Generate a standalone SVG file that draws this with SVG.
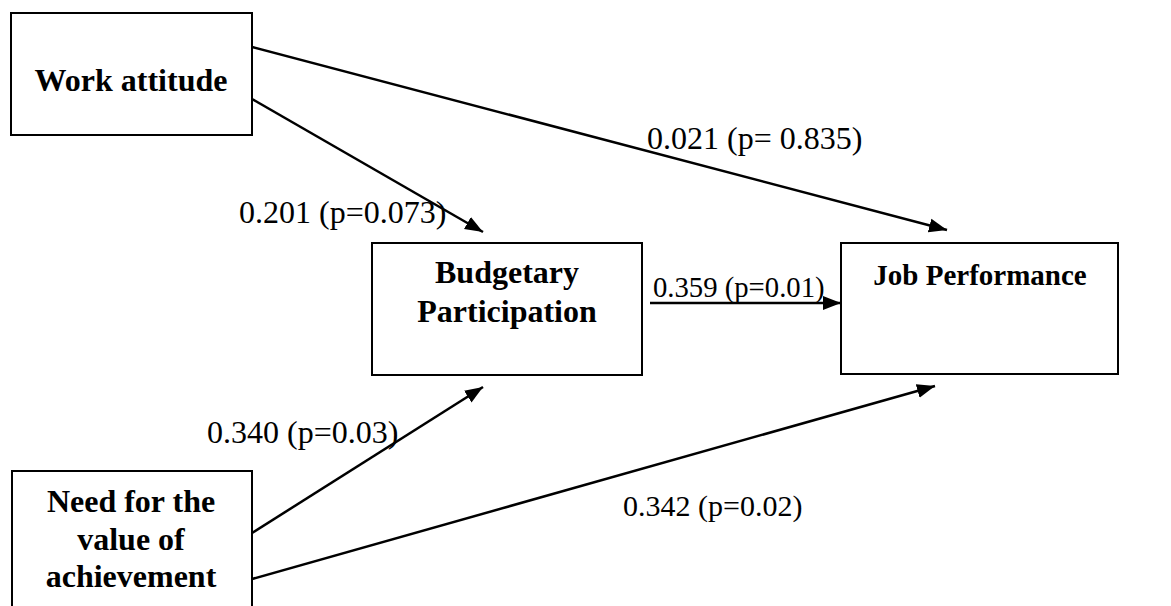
<svg xmlns="http://www.w3.org/2000/svg" width="1171" height="606" viewBox="0 0 1171 606">
<defs>
<marker id="arr" markerUnits="userSpaceOnUse" markerWidth="20" markerHeight="16" refX="18" refY="7" orient="auto" viewBox="0 0 20 14">
<path d="M0,0 L18,7 L0,14 Z" fill="#000"/>
</marker>
<style>
.box{fill:#fff;stroke:#000;stroke-width:2}
.t{font-family:"Liberation Serif","Times New Roman",serif;font-weight:bold;font-size:32px;fill:#000;text-anchor:middle}
.l{font-family:"Liberation Serif","Times New Roman",serif;font-size:32px;fill:#000}
.c{stroke:#000;stroke-width:2.5;fill:none;marker-end:url(#arr)}
</style>
</defs>
<rect width="1171" height="606" fill="#fff"/>
<g id="work-attitude">
<rect class="box" x="11" y="13" width="241" height="122"/>
<text class="t" x="131" y="91">Work attitude</text>
</g>
<g id="budgetary-participation">
<rect class="box" x="372" y="243" width="270" height="132"/>
<text class="t" x="507" y="283">Budgetary</text>
<text class="t" x="507" y="322">Participation</text>
</g>
<g id="job-performance">
<rect class="box" x="841" y="243" width="277" height="131"/>
<text class="t" x="980" y="285" style="font-size:29px">Job Performance</text>
</g>
<g id="need-achievement">
<rect class="box" x="12" y="471" width="240" height="145"/>
<text class="t" x="131" y="512">Need for the</text>
<text class="t" x="131" y="550">value of</text>
<text class="t" x="131" y="587">achievement</text>
</g>
<g id="connectors">
<line class="c" x1="252" y1="47" x2="947" y2="230"/>
<line class="c" x1="252" y1="99" x2="483" y2="232"/>
<line class="c" x1="650" y1="303" x2="841" y2="303"/>
<line class="c" x1="252" y1="533" x2="483" y2="387"/>
<line class="c" x1="252" y1="579" x2="935" y2="386"/>
</g>
<g id="labels">
<text class="l" x="647" y="149">0.021 (p= 0.835)</text>
<text class="l" x="239" y="223">0.201 (p=0.073)</text>
<text class="l" x="653" y="297" style="font-size:28.7px">0.359 (p=0.01)</text>
<text class="l" x="207" y="443">0.340 (p=0.03)</text>
<text class="l" x="623" y="516" style="font-size:30px">0.342 (p=0.02)</text>
</g>
</svg>
